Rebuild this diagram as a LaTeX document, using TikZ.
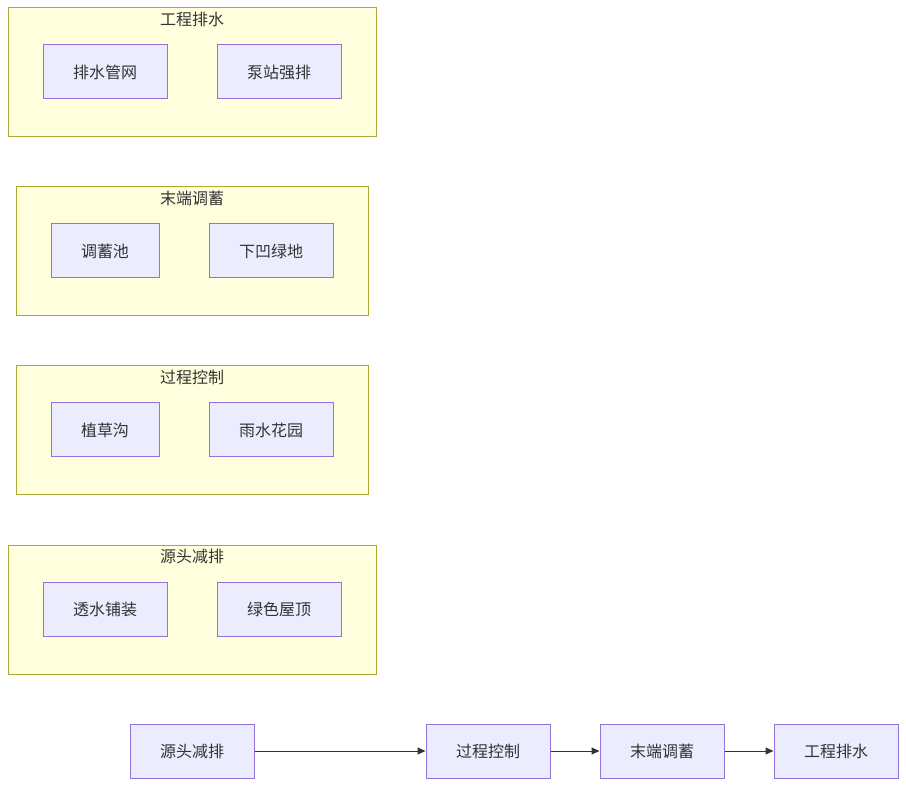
\documentclass[tikz,border=0pt]{standalone}
\usepackage{fontspec}
\setmainfont{Noto Sans CJK SC}
\usetikzlibrary{arrows.meta}
\definecolor{boxfill}{HTML}{ECECFF}
\definecolor{boxline}{HTML}{9370DB}
\definecolor{grpfill}{HTML}{FFFFDE}
\definecolor{grpline}{HTML}{AAAA33}
\definecolor{txt}{HTML}{333333}
\begin{document}
\begin{tikzpicture}[x=1pt,y=-1pt,
	every node/.style={font=\fontsize{16pt}{19pt}\selectfont,text=txt,inner sep=0},
	box/.style={rectangle,draw=boxline,fill=boxfill,line width=1pt,
	minimum width=124pt,minimum height=54pt},
	narrow/.style={box,minimum width=108pt},
	group/.style={rectangle,draw=grpline,fill=grpfill,line width=1pt,
	minimum height=129pt,minimum width=#1},
	flow/.style={draw=txt,line width=1pt,-{Triangle[length=8pt,width=7pt]}}]
\useasboundingbox (0,0) rectangle (906,786);
% groups
\node[group=368pt] (g4) at (192,72.5) {};
\node (t4) at (192,19) {工程排水};
\node[box] (pg) at (105,72) {排水管网};
\node[box] (bz) at (279,72) {泵站强排};
\node[group=352pt] (g3) at (192,251.5) {};
\node (t3) at (192,198) {末端调蓄};
\node[narrow] (tx) at (105,251) {调蓄池};
\node[box] (xa) at (271,251) {下凹绿地};
\node[group=352pt] (g2) at (192,430.5) {};
\node (t2) at (192,377) {过程控制};
\node[narrow] (zc) at (105,430) {植草沟};
\node[box] (yh) at (271,430) {雨水花园};
\node[group=368pt] (g1) at (192,609.5) {};
\node (t1) at (192,556) {源头减排};
\node[box] (ts) at (105,609) {透水铺装};
\node[box] (lw) at (279,609) {绿色屋顶};
% flow
\node[box] (a) at (192,751) {源头减排};
\node[box] (b) at (488,751) {过程控制};
\node[box] (c) at (662,751) {末端调蓄};
\node[box] (d) at (836,751) {工程排水};
\draw[flow] (a) -- (b);
\draw[flow] (b) -- (c);
\draw[flow] (c) -- (d);
\end{tikzpicture}
\end{document}
